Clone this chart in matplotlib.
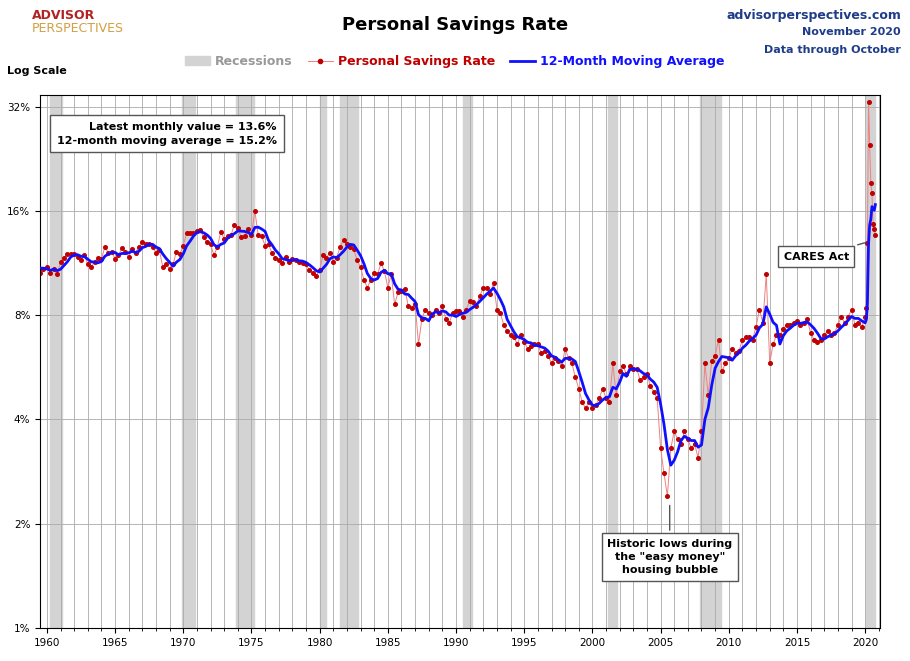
import matplotlib
matplotlib.use("Agg")
import matplotlib.pyplot as plt
import matplotlib.dates as mdates
from matplotlib.patches import Patch
from matplotlib.lines import Line2D
import numpy as np
import pandas as pd

plt.rcParams['font.family'] = ['DejaVu Sans']

# Personal savings rate, quarterly 1959-2019, then monthly 2020
quarterly_rate = [
    11.2, 11.0, 10.6, 10.9, 11.0, 10.6, 10.9, 10.5, 11.4, 11.7, 12.0, 12.0,
    12.0, 11.8, 11.5, 11.9, 11.2, 11.0, 11.4, 11.7, 11.6, 12.6, 12.1, 12.2,
    11.6, 11.9, 12.5, 12.2, 11.8, 12.4, 12.1, 12.6, 13.0, 12.8, 12.8, 12.6,
    12.1, 12.3, 11.0, 11.2, 10.9, 11.2, 12.2, 12.0, 12.7, 13.8, 13.8, 13.8,
    14.0, 14.1, 13.4, 13.0, 12.8, 11.9, 12.6, 13.9, 13.3, 13.5, 13.6, 14.6,
    14.3, 13.4, 13.5, 14.2, 13.6, 16.0, 13.6, 13.5, 12.7, 12.8, 12.1, 11.7,
    11.5, 11.3, 11.8, 11.4, 11.6, 11.5, 11.4, 11.3, 11.2, 10.8, 10.6, 10.4,
    10.8, 11.9, 11.7, 12.1, 11.4, 11.7, 12.6, 13.2, 12.8, 12.6, 12.4, 11.5,
    11.0, 10.1, 9.6, 10.1, 10.6, 10.5, 11.3, 10.7, 9.6, 10.5, 8.6, 9.3,
    9.4, 9.5, 8.5, 8.4, 8.6, 6.6, 7.8, 8.3, 8.1, 8.0, 8.3, 8.1,
    8.5, 7.8, 7.6, 8.1, 8.2, 8.2, 7.9, 8.3, 8.8, 8.7, 8.5, 9.1,
    9.6, 9.6, 9.2, 9.9, 8.3, 8.1, 7.5, 7.2, 7.0, 6.9, 6.6, 7.0,
    6.7, 6.4, 6.5, 6.6, 6.6, 6.2, 6.3, 6.1, 5.8, 6.0, 5.9, 5.7,
    6.4, 6.0, 5.8, 5.3, 4.9, 4.5, 4.3, 4.5, 4.3, 4.4, 4.6, 4.9,
    4.6, 4.5, 5.8, 4.7, 5.5, 5.7, 5.4, 5.7, 5.6, 5.6, 5.2, 5.3,
    5.4, 5.0, 4.8, 4.6, 3.3, 2.8, 2.4, 3.3, 3.7, 3.5, 3.4, 3.7,
    3.5, 3.3, 3.4, 3.1, 3.7, 5.8, 4.7, 5.9, 6.1, 6.8, 5.5, 5.8,
    6.0, 6.4, 6.2, 6.3, 6.8, 6.9, 6.9, 6.8, 7.4, 8.3, 7.6, 10.5,
    5.8, 6.6, 7.0, 7.0, 7.3, 7.5, 7.5, 7.6, 7.7, 7.5, 7.6, 7.8,
    7.1, 6.8, 6.7, 6.8, 7.0, 7.2, 7.0, 7.1, 7.5, 7.9, 7.6, 7.9,
    8.3, 7.5, 7.6, 7.4,
]
monthly_2020 = [7.9, 8.4, 12.9, 33.0, 24.8, 19.2, 18.0, 14.7, 14.2, 13.6]

dates = pd.date_range('1959-01-01', periods=len(quarterly_rate), freq='QS').append(
    pd.date_range('2020-01-01', periods=len(monthly_2020), freq='MS'))
rate = pd.Series(quarterly_rate + monthly_2020, index=dates)
moving_avg = rate.rolling('365D').mean()

recessions = [('1960-04', '1961-02'), ('1969-12', '1970-11'), ('1973-11', '1975-03'),
              ('1980-01', '1980-07'), ('1981-07', '1982-11'), ('1990-07', '1991-03'),
              ('2001-03', '2001-11'), ('2007-12', '2009-06'), ('2020-02', '2020-10')]

fig = plt.figure(figsize=(9.1, 6.61), dpi=100)
ax = fig.add_axes([0.044, 0.05, 0.923, 0.806])

for start, end in recessions:
    ax.axvspan(pd.Timestamp(start), pd.Timestamp(end), color='#d3d3d3', zorder=0)

ax.plot(rate.index, rate.values, color='#f08080', lw=0.7, marker='o', ms=2.6,
        mfc='#c00000', mec='#c00000', zorder=2)
ax.plot(moving_avg.index, moving_avg.values, color='#1010ff', lw=2, zorder=3)

ax.set_yscale('log')
ax.set_ylim(1, 34.5)
yt = [1, 2, 4, 8, 16, 32]
ax.set_yticks(yt)
ax.set_yticklabels([f'{v}%' for v in yt], fontsize=7.5)
ax.yaxis.set_minor_locator(matplotlib.ticker.NullLocator())
ax.set_xlim(pd.Timestamp('1959-07-01'), pd.Timestamp('2021-02-01'))
ax.xaxis.set_major_locator(mdates.YearLocator(5))
ax.xaxis.set_minor_locator(mdates.YearLocator(1))
ax.xaxis.set_major_formatter(mdates.DateFormatter('%Y'))
ax.tick_params(axis='x', labelsize=7.5)
ax.grid(True, which='both', axis='x', color='#aaaaaa', lw=0.6)
ax.grid(True, which='major', axis='y', color='#aaaaaa', lw=0.6)

ax.text(0.02, 0.95, 'Latest monthly value = 13.6%\n12-month moving average = 15.2%',
        transform=ax.transAxes, ha='left', va='top', fontsize=8, fontweight='bold',
        multialignment='right', linespacing=1.5,
        bbox=dict(boxstyle='square,pad=0.6', fc='white', ec='#555555'))
ax.annotate('CARES Act', xy=(pd.Timestamp('2020-03-01'), 13.0),
            xytext=(pd.Timestamp('2016-06-01'), 11.8), fontsize=8, fontweight='bold',
            ha='center', va='center',
            bbox=dict(boxstyle='square,pad=0.5', fc='white', ec='#555555'),
            arrowprops=dict(arrowstyle='-', color='#555555'))
ax.annotate('Historic lows during\nthe "easy money"\nhousing bubble',
            xy=(pd.Timestamp('2005-09-01'), 2.3), xytext=(pd.Timestamp('2005-09-01'), 1.6),
            fontsize=8, fontweight='bold', ha='center', va='center', linespacing=1.4,
            bbox=dict(boxstyle='square,pad=0.5', fc='white', ec='#555555'),
            arrowprops=dict(arrowstyle='-', color='#555555'))

handles = [Patch(color='#d3d3d3', label='Recessions'),
           Line2D([], [], color='#f08080', lw=0.7, marker='o', ms=3, mfc='#c00000',
                  mec='#c00000', label='Personal Savings Rate'),
           Line2D([], [], color='#1010ff', lw=2, label='12-Month Moving Average')]
leg = fig.legend(handles=handles, loc='center', bbox_to_anchor=(0.5, 0.907), ncol=3,
                 frameon=False, fontsize=9, handlelength=2, columnspacing=1.2,
                 handletextpad=0.4)
for t, c in zip(leg.get_texts(), ['#999999', '#c00000', '#1010ff']):
    t.set_color(c)
    t.set_fontweight('bold')

fig.text(0.5, 0.962, 'Personal Savings Rate', ha='center', va='center',
         fontsize=13, fontweight='bold')
fig.text(0.99, 0.977, 'advisorperspectives.com', ha='right', va='center',
         fontsize=9, fontweight='bold', color='#1f3c88')
fig.text(0.99, 0.951, 'November 2020', ha='right', va='center', fontsize=8,
         fontweight='bold', color='#1f3c88')
fig.text(0.99, 0.924, 'Data through October', ha='right', va='center', fontsize=8,
         fontweight='bold', color='#1f3c88')
fig.text(0.008, 0.892, 'Log Scale', ha='left', va='center', fontsize=8, fontweight='bold')
fig.text(0.035, 0.977, 'ADVISOR', ha='left', va='center', fontsize=9,
         fontweight='bold', color='#b22222')
fig.text(0.035, 0.957, 'PERSPECTIVES', ha='left', va='center', fontsize=9,
         color='#d2a040')

fig.savefig('out.png', dpi=100)
